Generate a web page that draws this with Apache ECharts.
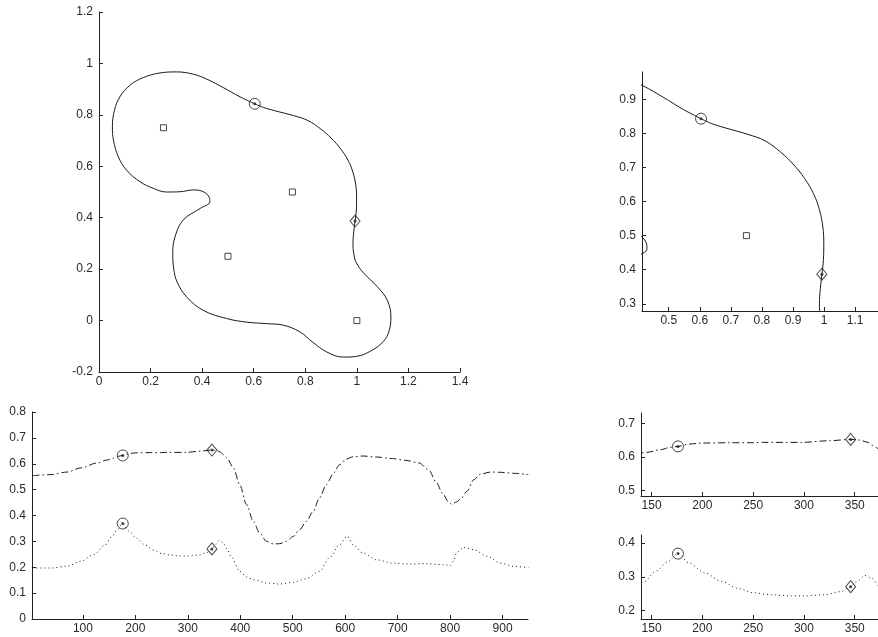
<!DOCTYPE html>
<html>
<head>
<meta charset="utf-8">
<script src="https://cdn.jsdelivr.net/npm/echarts@6/dist/echarts.min.js"></script>
<style>
html,body{margin:0;padding:0;background:#fff;}
#chart{width:878px;height:637px;}
</style>
</head>
<body>
<div id="chart"></div>
<script>
// ---- Data ----
// Closed contour (top plots)
const contourX = [0.604,0.547,0.482,0.418,0.366,0.301,0.237,0.172,0.120,0.081,0.060,0.052,0.056,0.075,0.107,0.159,0.211,0.262,0.314,0.366,0.405,0.427,0.430,0.392,0.327,0.295,0.286,0.290,0.303,0.340,0.404,0.495,0.573,0.650,0.715,0.779,0.830,0.883,0.948,0.999,1.051,1.103,1.125,1.132,1.118,1.080,1.028,0.998,0.988,0.985,0.988,0.993,0.998,0.999,0.996,0.985,0.966,0.937,0.900,0.860,0.810,0.755,0.682,0.637,0.604];
const contourY = [0.843,0.870,0.906,0.939,0.958,0.967,0.963,0.945,0.915,0.870,0.818,0.754,0.702,0.637,0.585,0.540,0.514,0.500,0.501,0.508,0.501,0.480,0.462,0.436,0.391,0.326,0.261,0.200,0.150,0.092,0.040,0.008,-0.006,-0.012,-0.018,-0.044,-0.085,-0.122,-0.142,-0.139,-0.120,-0.081,-0.040,0.014,0.079,0.131,0.183,0.225,0.260,0.300,0.345,0.387,0.430,0.477,0.525,0.576,0.623,0.668,0.710,0.745,0.778,0.797,0.816,0.829,0.843];
const centerX = [0.25,0.75,0.5,1.0];
const centerY = [0.75,0.5,0.25,0.0];
const contourCircle = [0.604,0.843];
const contourDiamond = [0.993,0.387];

// Profiles (bottom plots)
const upperX = [4,39,70,96,127,145,159,168,176,187,200,228,250,260,298,325,346,355,362,368,374,387,399,412,425,437,450,463,475,488,501,513,526,539,551,564,578,589,602,615,634,659,690,716,741,760,773,786,796,803,812,820,832,845,858,877,896,922,949];
const upperY = [0.554,0.558,0.568,0.584,0.603,0.614,0.622,0.629,0.632,0.639,0.642,0.643,0.643,0.644,0.644,0.649,0.653,0.651,0.645,0.635,0.624,0.584,0.519,0.442,0.377,0.332,0.300,0.290,0.291,0.300,0.319,0.345,0.377,0.416,0.468,0.519,0.564,0.596,0.618,0.627,0.630,0.626,0.620,0.613,0.603,0.575,0.530,0.485,0.455,0.443,0.452,0.463,0.493,0.538,0.560,0.568,0.567,0.563,0.558];
const lowerX = [4,39,70,96,121,142,155,165,176,187,203,219,235,250,267,285,300,320,336,346,352,360,367,375,383,399,412,425,450,475,501,526,551,570,589,604,615,634,659,691,722,754,786,801,806,813,826,845,871,896,922,949];
const lowerY = [0.197,0.197,0.204,0.223,0.249,0.285,0.318,0.343,0.369,0.341,0.311,0.286,0.266,0.253,0.247,0.244,0.2435,0.247,0.256,0.271,0.286,0.304,0.295,0.270,0.240,0.184,0.163,0.152,0.139,0.135,0.142,0.156,0.184,0.236,0.287,0.320,0.287,0.255,0.229,0.216,0.2125,0.214,0.210,0.207,0.222,0.258,0.277,0.268,0.242,0.216,0.203,0.199];
const markCircleX = 176, markDiamondX = 346;
const upperMarks = [0.632, 0.653];
const lowerMarks = [0.369, 0.271];

// Tick labels
const tlX = [0,0.2,0.4,0.6,0.8,1,1.2,1.4];
const tlY = [-0.2,0,0.2,0.4,0.6,0.8,1,1.2];
const trX = [0.5,0.6,0.7,0.8,0.9,1,1.1];
const trY = [0.3,0.4,0.5,0.6,0.7,0.8,0.9];
const blX = [100,200,300,400,500,600,700,800,900];
const blY = [0,0.1,0.2,0.3,0.4,0.5,0.6,0.7,0.8];
const brX = [150,200,250,300,350];
const brUY = [0.5,0.6,0.7];
const brLY = [0.2,0.3,0.4];

// ---- Build ----
const zip = (xs, ys) => xs.map((x, i) => [x, ys[i]]);
const INK = '#1a1a1a';
const TXT = '#2a2a2a';
const FONT = {fontFamily: 'Liberation Sans, Arial, sans-serif', fontSize: 12, color: TXT};

function axis(type, gi, min, max, ticks) {
  return {
    type: 'value', gridIndex: gi, min: min, max: max,
    axisLine: {show: true, onZero: false, lineStyle: {color: '#222', width: 1}},
    axisTick: {show: true, inside: true, length: 4, lineStyle: {color: '#222'}, customValues: ticks},
    axisLabel: Object.assign({show: true, margin: type === 'x' ? 4 : 6, customValues: ticks,
      formatter: v => String(+v.toFixed(3))}, FONT),
    splitLine: {show: false}
  };
}

const grids = [
  {left: 99, top: 12, width: 361, height: 360},
  {left: 642, top: 72, width: 240, height: 239},
  {left: 32, top: 412, width: 496, height: 207},
  {left: 641, top: 413, width: 241, height: 83},
  {left: 641, top: 535, width: 241, height: 84}
];

const xAxes = [
  axis('x', 0, 0, 1.4, tlX),
  axis('x', 1, 0.414, 0.414 + 240/316, trX),
  axis('x', 2, 3, 3 + 496/0.5246, blX),
  axis('x', 3, 139.6, 139.6 + 241/1.033, brX),
  axis('x', 4, 139.6, 139.6 + 241/1.033, brX)
];
const yAxes = [
  axis('y', 0, -0.2, 1.2, tlY),
  axis('y', 1, 0.279, 0.279 + 239/341, trY),
  axis('y', 2, 0, 0.8, blY),
  axis('y', 3, 0.483, 0.483 + 83/333, brUY),
  axis('y', 4, 0.175, 0.175 + 84/337, brLY)
];

function line(gi, data, type, smooth) {
  return {
    type: 'line', xAxisIndex: gi, yAxisIndex: gi, data: data,
    showSymbol: false, symbol: 'none', clip: true, smooth: smooth,
    smoothMonotone: gi >= 2 ? 'x' : undefined,
    lineStyle: {color: INK, width: 1, type: type}, silent: true, z: 2
  };
}
function marks(gi, data, symbol, size) {
  return [
    {type: 'scatter', xAxisIndex: gi, yAxisIndex: gi, data: data, symbol: symbol, symbolSize: size, clip: true, silent: true, z: 3,
     itemStyle: {color: 'rgba(0,0,0,0)', borderColor: INK, borderWidth: 1}},
    {type: 'scatter', xAxisIndex: gi, yAxisIndex: gi, data: data, symbol: 'circle', symbolSize: 3, clip: true, silent: true, z: 4,
     itemStyle: {color: INK}}
  ];
}
function squares(gi) {
  return {type: 'scatter', xAxisIndex: gi, yAxisIndex: gi, data: zip(centerX, centerY), symbol: 'rect', symbolSize: 6, clip: true, silent: true, z: 3,
    itemStyle: {color: 'rgba(0,0,0,0)', borderColor: INK, borderWidth: 1}};
}

const contour = zip(contourX, contourY);
const upper = zip(upperX, upperY);
const lower = zip(lowerX, lowerY);
const dashDot = [7, 3, 1.5, 3];
const dotted = [1, 3];

const series = [];
[0, 1].forEach(gi => {
  series.push(line(gi, contour, 'solid', 0.4));
  series.push(squares(gi));
  series.push(...marks(gi, [contourCircle], 'circle', 11));
  series.push(...marks(gi, [contourDiamond], 'diamond', [10, 12]));
});
// bottom-left: both profiles
series.push(line(2, upper, dashDot, 0.3));
series.push(line(2, lower, dotted, 0.3));
series.push(...marks(2, [[markCircleX, upperMarks[0]], [markCircleX, lowerMarks[0]]], 'circle', 11));
series.push(...marks(2, [[markDiamondX, upperMarks[1]], [markDiamondX, lowerMarks[1]]], 'diamond', [10, 12]));
// bottom-right zooms
series.push(line(3, upper, dashDot, 0.3));
series.push(...marks(3, [[markCircleX, upperMarks[0]]], 'circle', 11));
series.push(...marks(3, [[markDiamondX, upperMarks[1]]], 'diamond', [10, 12]));
series.push(line(4, lower, dotted, 0.3));
series.push(...marks(4, [[markCircleX, lowerMarks[0]]], 'circle', 11));
series.push(...marks(4, [[markDiamondX, lowerMarks[1]]], 'diamond', [10, 12]));

const chart = echarts.init(document.getElementById('chart'), null, {renderer: 'canvas'});
chart.setOption({
  animation: false,
  backgroundColor: '#fff',
  grid: grids,
  xAxis: xAxes,
  yAxis: yAxes,
  series: series
});
</script>
</body>
</html>
